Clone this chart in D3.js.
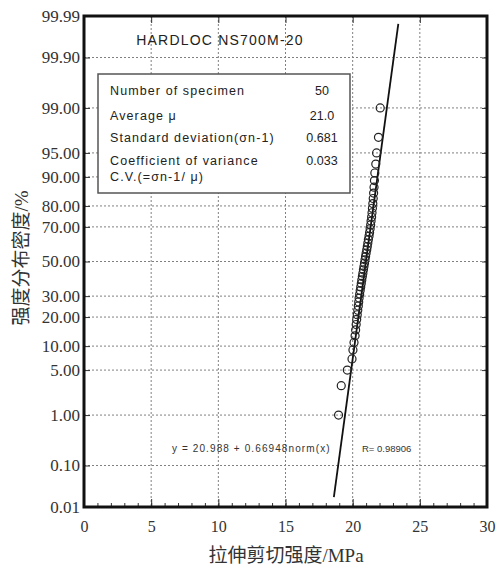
<!DOCTYPE html>
<html lang="zh">
<head>
<meta charset="UTF-8">
<title>HARDLOC NS700M-20</title>
<script src="https://d3js.org/d3.v7.min.js"></script>
<style>
body { margin: 0; background: #fff; }
.tick text { font-family: "Liberation Serif", "Times New Roman", serif; fill: #333; }
.box text { font-family: "Liberation Sans", Arial, sans-serif; fill: #222; }
</style>
</head>
<body>
<div id="chart"></div>
<script>
// cumulative probability (%) of each sorted specimen and its strength (MPa)
var cumPct = [1, 3, 5, 7, 9, 11, 13, 15, 17, 19, 21, 23, 25, 27, 29, 31, 33, 35, 37, 39,
              41, 43, 45, 47, 49, 51, 53, 55, 57, 59, 61, 63, 65, 67, 69, 71, 73, 75, 77, 79,
              81, 83, 85, 87, 89, 91, 93, 95, 97, 99];
var strength = [18.95, 19.15, 19.60, 19.95, 20.02, 20.10, 20.18, 20.22, 20.26, 20.30,
                20.34, 20.38, 20.42, 20.45, 20.48, 20.52, 20.56, 20.60, 20.64, 20.68,
                20.72, 20.76, 20.80, 20.84, 20.88, 20.92, 20.96, 21.00, 21.05, 21.09,
                21.13, 21.17, 21.22, 21.26, 21.30, 21.34, 21.37, 21.41, 21.44, 21.47,
                21.50, 21.53, 21.56, 21.59, 21.62, 21.65, 21.72, 21.78, 21.92, 22.05];

var yTickPct = [0.01, 0.1, 1, 5, 10, 20, 30, 50, 70, 80, 90, 95, 99, 99.9, 99.99];
var yTickLabels = ["0.01", "0.10", "1.00", "5.00", "10.00", "20.00", "30.00", "50.00",
                   "70.00", "80.00", "90.00", "95.00", "99.00", "99.90", "99.99"];
var xTicks = [0, 5, 10, 15, 20, 25, 30];

// fitted line y = 20.988 + 0.66948 norm(x)
var fitMean = 20.988, fitSd = 0.66948;
var fitRange = [0.018, 99.984]; // % range the line is drawn over

var statLabels = ["Number of specimen", "Average \u03bc", "Standard deviation(\u03c3n-1)", "Coefficient of variance"];
var statValues = ["50", "21.0", "0.681", "0.033"];

// inverse standard normal (Acklam approximation)
function probit(p) {
  var a = [-3.969683028665376e+01, 2.209460984245205e+02, -2.759285104469687e+02, 1.383577518672690e+02, -3.066479806614716e+01, 2.506628277459239e+00];
  var b = [-5.447609879822406e+01, 1.615858368580409e+02, -1.556989798598866e+02, 6.680131188771972e+01, -1.328068155288572e+01];
  var c = [-7.784894002430293e-03, -3.223964580411365e-01, -2.400758277161838e+00, -2.549732539343734e+00, 4.374664141464968e+00, 2.938163982698783e+00];
  var d = [7.784695709041462e-03, 3.224671290700398e-01, 2.445134137142996e+00, 3.754408661907416e+00];
  var q, r;
  if (p < 0.02425) {
    q = Math.sqrt(-2 * Math.log(p));
    return (((((c[0]*q+c[1])*q+c[2])*q+c[3])*q+c[4])*q+c[5]) / ((((d[0]*q+d[1])*q+d[2])*q+d[3])*q+1);
  }
  if (p > 1 - 0.02425) {
    q = Math.sqrt(-2 * Math.log(1 - p));
    return -(((((c[0]*q+c[1])*q+c[2])*q+c[3])*q+c[4])*q+c[5]) / ((((d[0]*q+d[1])*q+d[2])*q+d[3])*q+1);
  }
  q = p - 0.5; r = q * q;
  return (((((a[0]*r+a[1])*r+a[2])*r+a[3])*r+a[4])*r+a[5])*q / (((((b[0]*r+b[1])*r+b[2])*r+b[3])*r+b[4])*r+1);
}

var margin = {top: 16, right: 13, bottom: 62, left: 84},
    width = 500 - margin.left - margin.right,
    height = 569 - margin.top - margin.bottom;

var svg = d3.select("#chart")
  .append("svg")
    .attr("width", 500)
    .attr("height", 569)
  .append("g")
    .attr("transform", "translate(" + margin.left + "," + margin.top + ")");

var x = d3.scaleLinear().domain([0, 30]).range([0, width]);
var zy = d3.scaleLinear().domain([probit(0.0001), probit(0.9999)]).range([height, 0]);
var y = function(pct) { return zy(probit(pct / 100)); };

// dotted grid
svg.append("g").selectAll("line")
  .data(yTickPct.slice(1, -1))
  .enter().append("line")
    .attr("x1", 0).attr("x2", width)
    .attr("y1", function(d) { return y(d); })
    .attr("y2", function(d) { return y(d); })
    .style("stroke", "#808080")
    .style("stroke-dasharray", "2,2");
svg.append("g").selectAll("line")
  .data(xTicks.slice(1, -1))
  .enter().append("line")
    .attr("x1", function(d) { return x(d); })
    .attr("x2", function(d) { return x(d); })
    .attr("y1", 0).attr("y2", height)
    .style("stroke", "#808080")
    .style("stroke-dasharray", "2,2");

// axes
var yAxis = svg.append("g")
  .call(d3.axisLeft(zy)
    .tickValues(yTickPct.map(function(p) { return probit(p / 100); }))
    .tickFormat(function(d, i) { return yTickLabels[i]; })
    .tickSize(-6).tickPadding(4));
yAxis.selectAll("text").style("font-size", "17px");

var xAxis = svg.append("g")
  .attr("transform", "translate(0," + height + ")")
  .call(d3.axisBottom(x).tickValues(xTicks).tickSize(-8).tickPadding(14));
xAxis.selectAll("text").style("font-size", "16px");

svg.append("g")
  .attr("transform", "translate(0," + height + ")")
  .call(d3.axisBottom(x).ticks(30).tickSize(-4).tickFormat(""));
svg.append("g")
  .call(d3.axisTop(x).tickValues(xTicks).tickSize(-7).tickFormat(""));
svg.append("g")
  .attr("transform", "translate(" + width + ",0)")
  .call(d3.axisRight(zy)
    .tickValues(yTickPct.map(function(p) { return probit(p / 100); }))
    .tickSize(-5).tickFormat(""));
svg.selectAll(".domain").remove();
svg.selectAll(".tick line").style("stroke", "#333");

// frame
svg.append("rect")
  .attr("width", width).attr("height", height)
  .style("fill", "none")
  .style("stroke", "#111")
  .style("stroke-width", 3);

// title
svg.append("text")
  .attr("x", 220 - margin.left).attr("y", 45 - margin.top)
  .style("text-anchor", "middle")
  .style("font-family", "Liberation Sans, Arial, sans-serif")
  .style("font-size", "14px")
  .style("letter-spacing", "1.2px")
  .style("fill", "#222")
  .text("HARDLOC NS700M-20");

// stats box
var rowY = [25, 50, 72, 95];
var box = svg.append("g").attr("class", "box")
  .attr("transform", "translate(" + (98 - margin.left) + "," + (70 - margin.top) + ")");
box.append("rect")
  .attr("y", 4)
  .attr("width", 252).attr("height", 119)
  .style("fill", "#fff")
  .style("stroke", "#555")
  .style("stroke-width", 1.5);
box.selectAll("text.lab")
  .data(statLabels)
  .enter().append("text")
    .attr("class", "lab")
    .attr("x", 12)
    .attr("y", function(d, i) { return rowY[i]; })
    .style("font-size", "12.5px")
    .style("letter-spacing", "1.1px")
    .text(function(d) { return d; });
box.append("text")
  .attr("x", 12).attr("y", 111)
  .style("font-size", "12.5px")
  .style("letter-spacing", "1.1px")
  .text("C.V.(=\u03c3n-1/ \u03bc)");
box.selectAll("text.val")
  .data(statValues)
  .enter().append("text")
    .attr("class", "val")
    .attr("x", 224)
    .attr("y", function(d, i) { return rowY[i]; })
    .style("text-anchor", "middle")
    .style("font-size", "12.5px")
    .text(function(d) { return d; });

// fitted line
var fitPts = fitRange.map(function(p) { return [fitMean + fitSd * probit(p / 100), p]; });
svg.append("line")
  .attr("x1", x(fitPts[0][0])).attr("y1", y(fitPts[0][1]))
  .attr("x2", x(fitPts[1][0])).attr("y2", y(fitPts[1][1]))
  .style("stroke", "#111")
  .style("stroke-width", 1.8);

// specimens
svg.append("g").selectAll("circle")
  .data(strength)
  .enter().append("circle")
    .attr("cx", function(d) { return x(d); })
    .attr("cy", function(d, i) { return y(cumPct[i]); })
    .attr("r", 4)
    .style("fill", "none")
    .style("stroke", "#222")
    .style("stroke-width", 1.2);

// regression text
svg.append("text")
  .attr("x", 172 - margin.left).attr("y", 452 - margin.top)
  .style("font-family", "Liberation Sans, Arial, sans-serif")
  .style("font-size", "10px")
  .style("letter-spacing", "1.1px")
  .style("fill", "#333")
  .text("y = 20.988 + 0.66948norm(x)");
svg.append("text")
  .attr("x", 362 - margin.left).attr("y", 452 - margin.top)
  .style("font-family", "Liberation Sans, Arial, sans-serif")
  .style("font-size", "9.5px")
  .style("fill", "#333")
  .text("R= 0.98906");

// axis titles
svg.append("text")
  .attr("x", 286 - margin.left).attr("y", 562 - margin.top)
  .style("text-anchor", "middle")
  .style("font-family", "Liberation Serif, Noto Sans CJK SC, serif")
  .style("font-size", "19px")
  .style("fill", "#333")
  .text("拉伸剪切强度/MPa");
svg.append("text")
  .attr("transform", "translate(" + (28 - margin.left) + "," + (258 - margin.top) + ") rotate(-90)")
  .style("text-anchor", "middle")
  .style("font-family", "Liberation Serif, Noto Sans CJK SC, serif")
  .style("font-size", "19px")
  .style("fill", "#333")
  .text("强度分布密度/%");
</script>
</body>
</html>
